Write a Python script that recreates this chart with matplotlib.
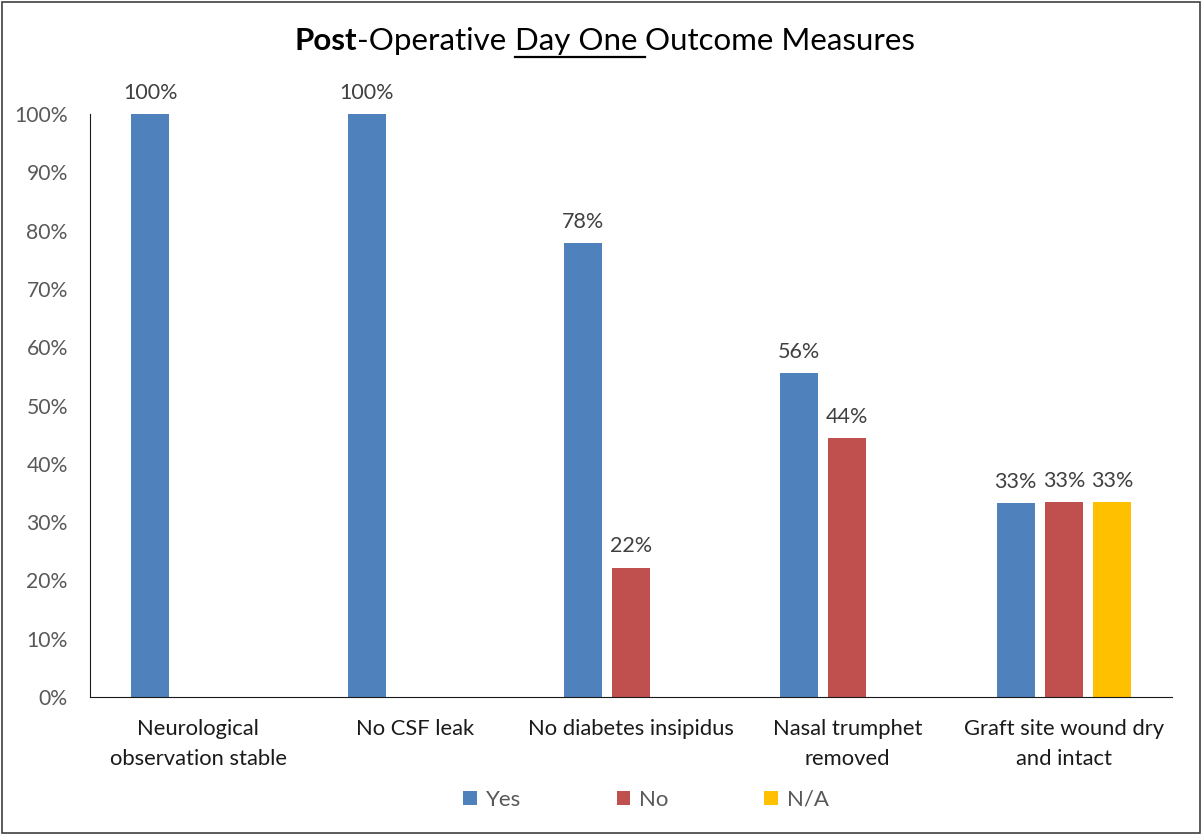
import numpy as np
import matplotlib.pyplot as plt
from matplotlib.patches import Rectangle, Patch
from matplotlib.lines import Line2D

plt.rcParams['font.family'] = ['Lato', 'DejaVu Sans']

# data
categories = ['Neurological\nobservation stable', 'No CSF leak', 'No diabetes insipidus',
              'Nasal trumphet\nremoved', 'Graft site wound dry\nand intact']
yes = [100, 100, 77.8, 55.6, 33.2]
no = [0, 0, 22.2, 44.4, 33.4]
na = [0, 0, 0, 0, 33.4]
series_names = ['Yes', 'No', 'N/A']
colors = ['#4F81BD', '#C0504D', '#FFC000']

W, H = 1202, 835
fig = plt.figure(figsize=(W / 100, H / 100), dpi=100)
ax = fig.add_axes([90 / W, 138 / H, 1082 / W, 583 / H])

x = np.arange(len(categories))
width = 0.176
offset = 0.222
for i, (vals, col) in enumerate(zip([yes, no, na], colors)):
    bars = ax.bar(x + (i - 1) * offset, vals, width, color=col)
    for b, v in zip(bars, vals):
        if v > 0:
            ax.annotate('%d%%' % round(v), (b.get_x() + b.get_width() / 2, v),
                        xytext=(0, 8), textcoords='offset points',
                        ha='center', va='bottom', fontsize=15.5, color='#404040')

ax.set_xlim(-0.5, len(categories) - 0.5)
ax.set_ylim(0, 100)
ax.set_yticks(range(0, 101, 10))
ax.set_yticklabels(['%d%%' % t for t in range(0, 101, 10)])
ax.set_xticks(x)
ax.set_xticklabels(categories, linespacing=1.6)
ax.tick_params(axis='y', length=0, pad=16, labelsize=15.2, labelcolor='#595959')
ax.tick_params(axis='x', length=0, pad=16, labelsize=15.8, labelcolor='#1a1a1a')
for s in ['top', 'right']:
    ax.spines[s].set_visible(False)
ax.spines['left'].set_color('#1a1a1a')
ax.spines['bottom'].set_color('#1a1a1a')

# title with mixed styles: bold "Post", underlined "Day One "
pieces = [('Post', 'bold', False), ('-Operative ', 'normal', False),
          ('Day One ', 'normal', True), ('Outcome Measures', 'normal', False)]
renderer = fig.canvas.get_renderer()
texts = []
for s, w, u in pieces:
    t = fig.text(0, 1 - 50 / H, s, fontsize=22.5, fontweight=w, color='black',
                 ha='left', va='baseline')
    texts.append(t)
widths = [t.get_window_extent(renderer).width for t in texts]
total = sum(widths)
xpos = 605 - total / 2
for t, wd, (s, w, u) in zip(texts, widths, pieces):
    t.set_x(xpos / W)
    if u:
        fig.add_artist(Line2D([xpos / W, (xpos + wd) / W], [1 - 57 / H, 1 - 57 / H],
                              color='black', lw=1.6))
    xpos += wd

handles = [Patch(facecolor=c) for c in colors]
fig.legend(handles, series_names, loc='center', bbox_to_anchor=(646 / W, 1 - 800 / H),
           ncol=3, frameon=False, fontsize=16, labelcolor='#595959',
           handlelength=0.62, handleheight=0.62, handletextpad=0.4, columnspacing=4.3)

fig.add_artist(Rectangle((0.002, 0.002), 0.996, 0.996, transform=fig.transFigure,
                         fill=False, edgecolor='#404040', lw=1.2))

fig.savefig('out.png', dpi=100)
